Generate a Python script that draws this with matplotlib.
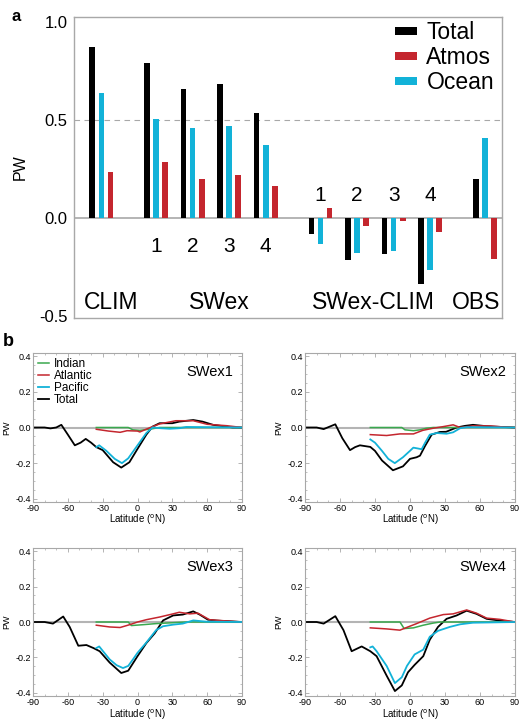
import matplotlib
matplotlib.use('Agg')
import matplotlib.pyplot as plt
import numpy as np

plt.rcParams['font.family'] = ['Liberation Sans', 'DejaVu Sans']
plt.rcParams['axes.unicode_minus'] = False

# ---- panel a data (PW) ----
groups = ['CLIM', 'SWex1', 'SWex2', 'SWex3', 'SWex4',
          'd1', 'd2', 'd3', 'd4', 'OBS']
group_x = [0, 1.5, 2.5, 3.5, 4.5, 6, 7, 8, 9, 10.5]
total = [0.873, 0.790, 0.656, 0.685, 0.534, -0.083, -0.217, -0.186, -0.337, 0.197]
ocean = [0.637, 0.505, 0.461, 0.468, 0.373, -0.134, -0.178, -0.169, -0.268, 0.408]
atmos = [0.237, 0.286, 0.197, 0.220, 0.164, 0.051, -0.039, -0.017, -0.071, -0.210]

# ---- panel b data: (latitude, PW) ----
tot1_lat = [-90, -80, -75, -70, -65.6, -60, -54, -49, -44.6, -40, -35.5, -30, -21, -14, -7, 0, 7.6, 13, 19, 30, 36, 48, 56, 65, 82, 90]
tot1_val = [0, 0, -0.005, 0, 0.015, -0.04, -0.10, -0.085, -0.064, -0.085, -0.11, -0.127, -0.195, -0.225, -0.195, -0.12, -0.04, 0.005, 0.024, 0.024, 0.033, 0.042, 0.033, 0.015, 0.0, 0]
atl1_lat = [-35.5, -25, -15, -9, 0, 2, 11, 19, 33, 48, 60, 77, 90]
atl1_val = [-0.01, -0.02, -0.027, -0.018, -0.02, -0.025, 0, 0.02, 0.038, 0.038, 0.018, 0.01, 0]
ind1_lat = [-35.5, -8, -4, 2, 11, 19, 90]
ind1_val = [0, 0, -0.013, -0.016, -0.009, 0, 0]
pac1_lat = [-35.5, -33, -27, -19.6, -13.4, -8, 0, 7.6, 13, 20, 27.7, 36, 42, 54, 90]
pac1_val = [-0.11, -0.10, -0.13, -0.176, -0.2, -0.173, -0.10, -0.031, 0, -0.004, -0.007, -0.004, 0.003, 0.002, 0]

tot2_lat = [-90, -80, -74, -64, -58, -51.4, -47, -42.9, -34, -30, -24, -14.6, -6, 0, 5.7, 8.6, 12.9, 18.6, 25.7, 31, 40, 47, 54, 63, 71, 90]
tot2_val = [0, 0, -0.009, 0.018, -0.06, -0.127, -0.11, -0.10, -0.109, -0.131, -0.185, -0.24, -0.218, -0.176, -0.167, -0.158, -0.104, -0.04, -0.025, -0.024, 0.0, 0.009, 0.015, 0.009, 0.005, 0]
atl2_lat = [-34, -20, -8.6, 3, 11, 20, 28.6, 37, 43, 54, 68.6, 80, 90]
atl2_val = [-0.04, -0.045, -0.036, -0.036, -0.016, -0.004, 0.005, 0.015, 0.0, 0.009, 0.009, 0.003, 0]
ind2_lat = [-34, -7, -4.3, 3, 8.6, 14, 20, 90]
ind2_val = [0, 0, -0.013, -0.018, -0.013, -0.004, 0, 0]
pac2_lat = [-34, -30, -24, -18.6, -13, -6, 0, 2.9, 7, 10, 13, 17, 23, 31.4, 37, 43, 48.6, 90]
pac2_val = [-0.067, -0.085, -0.131, -0.176, -0.2, -0.167, -0.131, -0.113, -0.118, -0.122, -0.085, -0.04, -0.031, -0.035, -0.027, -0.004, 0.002, 0]

tot3_lat = [-90, -80, -72.8, -64, -58.4, -51, -44, -38, -32.6, -24, -14, -8, 0, 7.6, 14.8, 22, 30.7, 39, 48, 53.5, 60.7, 68, 90]
tot3_val = [0, 0, -0.009, 0.031, -0.028, -0.134, -0.13, -0.147, -0.165, -0.229, -0.288, -0.275, -0.193, -0.119, -0.064, 0.009, 0.037, 0.042, 0.06, 0.042, 0.013, 0.008, 0]
atl3_lat = [-35.5, -24, -15, -6.7, 0, 7.6, 19, 30.6, 36, 45, 52, 62, 76.5, 90]
atl3_val = [-0.018, -0.028, -0.031, -0.015, 0, 0.013, 0.028, 0.046, 0.055, 0.046, 0.05, 0.013, 0.006, 0]
ind3_lat = [-35.5, -8, -5.3, 5, 16, 30.6, 42, 90]
ind3_val = [0, 0, -0.02, -0.015, -0.009, -0.004, 0, 0]
pac3_lat = [-35.5, -33, -29.7, -24, -18, -12.5, -8, -3.9, 0, 7.6, 16, 22, 30.6, 39, 48, 59, 90]
pac3_val = [-0.147, -0.138, -0.165, -0.211, -0.244, -0.26, -0.248, -0.211, -0.174, -0.116, -0.046, -0.024, -0.015, -0.009, 0.009, 0.002, 0]

tot4_lat = [-90, -80, -74, -64, -57, -50, -41.4, -34, -28.6, -20, -12.9, -7, -1.7, 4, 11.4, 17, 24, 31.4, 40, 48.6, 57, 65.7, 77, 90]
tot4_val = [0, 0, -0.009, 0.033, -0.046, -0.165, -0.138, -0.165, -0.193, -0.303, -0.39, -0.358, -0.284, -0.242, -0.193, -0.10, -0.028, 0.018, 0.037, 0.064, 0.046, 0.018, 0.008, 0]
atl4_lat = [-34, -20, -8.6, -2.9, 5.7, 17, 28.6, 37, 48.6, 57, 65.7, 77, 90]
atl4_val = [-0.033, -0.039, -0.046, -0.031, -0.009, 0.022, 0.042, 0.046, 0.068, 0.05, 0.022, 0.015, 0]
ind4_lat = [-34, -8.6, -5, 3, 11.4, 20, 25.7, 90]
ind4_val = [0, 0, -0.037, -0.033, -0.018, -0.006, 0, 0]
pac4_lat = [-34, -32, -28.6, -20, -12.9, -7, -2.6, 4, 11.4, 17, 24, 34, 43, 54, 90]
pac4_val = [-0.143, -0.138, -0.165, -0.248, -0.345, -0.312, -0.248, -0.183, -0.156, -0.083, -0.05, -0.028, -0.013, -0.004, 0]

panels = [
    ('SWex1', tot1_lat, tot1_val, atl1_lat, atl1_val, ind1_lat, ind1_val, pac1_lat, pac1_val),
    ('SWex2', tot2_lat, tot2_val, atl2_lat, atl2_val, ind2_lat, ind2_val, pac2_lat, pac2_val),
    ('SWex3', tot3_lat, tot3_val, atl3_lat, atl3_val, ind3_lat, ind3_val, pac3_lat, pac3_val),
    ('SWex4', tot4_lat, tot4_val, atl4_lat, atl4_val, ind4_lat, ind4_val, pac4_lat, pac4_val),
]

BLACK = 'black'
RED = '#c4262e'
CYAN = '#12b2d8'
GREEN = '#3aa84e'
GRAY = '#a8a8a8'

fig = plt.figure(figsize=(5.2, 7.2), dpi=100)

# ---------------- panel a ----------------
ax = fig.add_axes([0.1429, 0.5579, 0.8219, 0.4189])
gx = np.array(group_x)
w = 0.155
ax.bar(gx - 0.25, total, w, color=BLACK, label='Total', zorder=3)
ax.bar(gx + 0.25, atmos, w, color=RED, label='Atmos', zorder=3)
ax.bar(gx, ocean, w, color=CYAN, label='Ocean', zorder=3)
ax.axhline(0, color=GRAY, lw=1.2, zorder=2)
ax.axhline(0.5, color=GRAY, lw=0.8, ls=(0, (5, 4)), zorder=1)
ax.set_xlim(-0.74, 10.96)
ax.set_ylim(-0.512, 1.027)
ax.set_xticks([])
ax.set_yticks([-0.5, 0.0, 0.5, 1.0])
ax.set_yticklabels(['-0.5', '0.0', '0.5', '1.0'])
ax.tick_params(axis='y', length=0, pad=5, labelsize=12)
ax.set_ylabel('PW', fontsize=11.5, labelpad=8)
for s in ax.spines.values():
    s.set_color(GRAY)
    s.set_linewidth(1.0)

for i, xx in enumerate(group_x[1:5]):
    ax.text(xx, -0.148, str(i + 1), ha='center', va='center', fontsize=15)
for i, xx in enumerate(group_x[5:9]):
    ax.text(xx, 0.117, str(i + 1), ha='center', va='center', fontsize=15)
ax.text(0.265, -0.43, 'CLIM', ha='center', va='center', fontsize=16.5)
ax.text(3.22, -0.43, 'SWex', ha='center', va='center', fontsize=16.5)
ax.text(7.44, -0.43, 'SWex-CLIM', ha='center', va='center', fontsize=16.5)
ax.text(10.26, -0.43, 'OBS', ha='center', va='center', fontsize=16.5)

h, l = ax.get_legend_handles_labels()
leg = ax.legend(h, l, loc='upper right',
                bbox_to_anchor=(0.982, 0.985), frameon=False, fontsize=16.5,
                handlelength=0.96, handleheight=0.2, handletextpad=0.4,
                labelspacing=0.09, borderpad=0, borderaxespad=0)

fig.text(0.023, 0.988, 'a', fontsize=12, fontweight='bold', ha='left', va='top')

# ---------------- panel b ----------------
rects = [[0.0635, 0.3028, 0.4019, 0.2069],
         [0.5865, 0.3028, 0.4038, 0.2069],
         [0.0635, 0.0333, 0.4019, 0.2056],
         [0.5865, 0.0333, 0.4038, 0.2056]]

for k, (name, tl, tv, al, av, il, iv, pl, pv) in enumerate(panels):
    bx = fig.add_axes(rects[k])
    bx.axhline(0, color='#b4b4b4', lw=1.5, zorder=1)
    bx.plot(il, iv, color=GREEN, lw=1.1, label='Indian', zorder=3)
    bx.plot(al, av, color=RED, lw=1.1, label='Atlantic', zorder=4)
    bx.plot(pl, pv, color=CYAN, lw=1.3, label='Pacific', zorder=5)
    bx.plot(tl, tv, color=BLACK, lw=1.3, label='Total', zorder=2)
    bx.set_xlim(-90, 90)
    bx.set_ylim(-0.418, 0.418)
    bx.set_xticks([-90, -60, -30, 0, 30, 60, 90])
    bx.set_xticks(np.arange(-90, 91, 10), minor=True)
    bx.set_yticks([-0.4, -0.2, 0.0, 0.2, 0.4])
    bx.set_yticklabels(['-0.4', '-0.2', '0.0', '0.2', '0.4'])
    bx.set_yticks(np.arange(-0.4, 0.41, 0.05), minor=True)
    bx.tick_params(which='both', direction='in', top=True, right=True,
                   color=GRAY, labelsize=6.5, pad=1.5)
    bx.tick_params(which='major', length=3, width=0.6)
    bx.tick_params(which='minor', length=1.5, width=0.5)
    for s in bx.spines.values():
        s.set_color(GRAY)
        s.set_linewidth(0.8)
    bx.set_xlabel('Latitude ($^{\\rm o}$N)', fontsize=7, labelpad=0)
    bx.set_ylabel('PW', fontsize=6.5, labelpad=3)
    bx.text(0.957, 0.872, name, transform=bx.transAxes, ha='right', va='center', fontsize=10.5)
    if k == 0:
        hh, ll = bx.get_legend_handles_labels()
        bx.legend(hh, ll, loc='upper left', bbox_to_anchor=(0.025, 0.965),
                  frameon=False, fontsize=8.5, handlelength=0.95,
                  handletextpad=0.35, labelspacing=0.0, borderpad=0,
                  borderaxespad=0)

fig.text(0.005, 0.538, 'b', fontsize=13, fontweight='bold', ha='left', va='top')

fig.savefig('out.png', dpi=100)
